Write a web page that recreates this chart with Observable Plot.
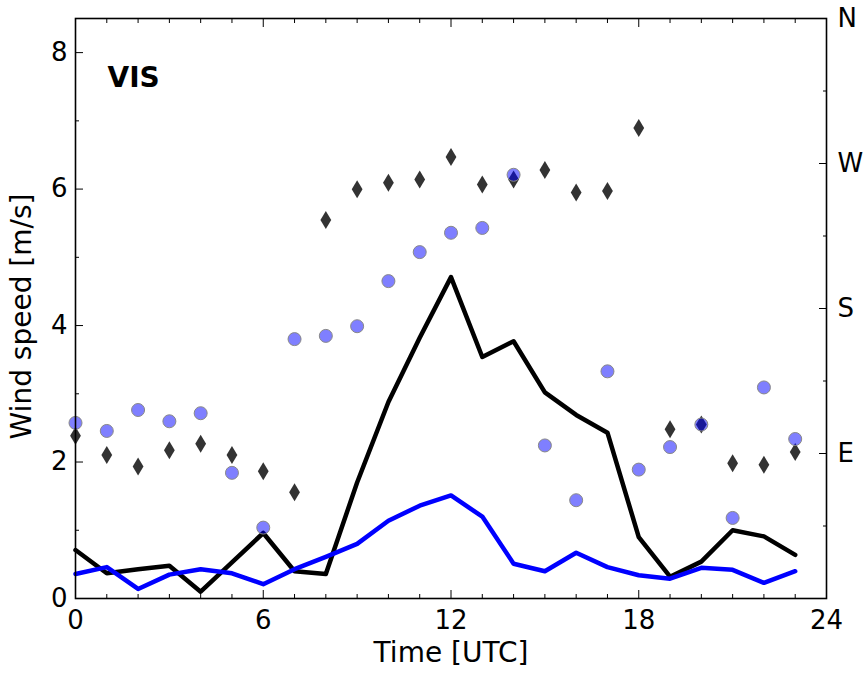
<!DOCTYPE html>
<html>
<head>
<meta charset="utf-8">
<script src="https://cdn.jsdelivr.net/npm/d3@7"></script>
<script src="https://cdn.jsdelivr.net/npm/@observablehq/plot@0.6"></script>
<style>
  html, body { margin: 0; padding: 0; background: #fff; }
  #chart svg { display: block; }
</style>
</head>
<body>
<div id="chart"></div>
<script>
// ---- data ----
const hours = [0,1,2,3,4,5,6,7,8,9,10,11,12,13,14,15,16,17,18,19,20,21,22,23];
const blackSpeed = [0.71,0.37,0.43,0.48,0.10,0.53,0.96,0.40,0.36,1.70,2.88,3.82,4.71,3.54,3.77,3.02,2.69,2.43,0.90,0.32,0.54,1.00,0.91,0.64];
const blueSpeed  = [0.36,0.46,0.14,0.35,0.43,0.37,0.21,0.43,0.61,0.80,1.14,1.36,1.51,1.20,0.51,0.40,0.67,0.46,0.34,0.29,0.45,0.42,0.23,0.40];
const blackDir = [101,89,82,92,96,89,79,66,235,254,258,260,274,257,260,266,252,253,292,105,108,84,83,91];
const blueDir  = [109,104,117,110,115,78,44,161,163,169,197,215,227,230,263,95,61,141,80,94,108,50,131,99];
const xTicksMajor = [0,6,12,18,24];
const xTicksMinor = [1,2,3,4,5,7,8,9,10,11,13,14,15,16,17,19,20,21,22,23];
const yTicksMajor = [0,2,4,6,8];
const yTicksMinor = [1,3,5,7];
const dirTicksMajor = [90,180,270,360];
const dirLabels = ["E","S","W","N"];
const dirTicksMinor = [45,135,225,315];
const panelLabel = "VIS";
const xLabel = "Time [UTC]";
const yLabel = "Wind speed [m/s]";

const YMAX = 8.5;
const dirToY = d => d * YMAX / 360;

const lineBlack = hours.map((h, i) => ({h, v: blackSpeed[i]}));
const lineBlue  = hours.map((h, i) => ({h, v: blueSpeed[i]}));
const ptsBlack  = hours.map((h, i) => ({h, v: dirToY(blackDir[i])}));
const ptsBlue   = hours.map((h, i) => ({h, v: dirToY(blueDir[i])}));

const thinDiamond = {
  draw(context, size) {
    const w = 5.4, hh = 9;
    context.moveTo(0, -hh);
    context.lineTo(w, 0);
    context.lineTo(0, hh);
    context.lineTo(-w, 0);
    context.closePath();
  }
};

const FS = 26;
const TFS = 28;
const blank = () => "";

const chart = Plot.plot({
  width: 865,
  height: 679,
  marginLeft: 75,
  marginRight: 39,
  marginTop: 18,
  marginBottom: 81,
  style: {fontFamily: "DejaVu Sans", fontSize: FS + "px", color: "#000", background: "#fff"},
  x: {domain: [0, 24]},
  y: {domain: [0, YMAX]},
  marks: [
    // lines
    Plot.line(lineBlack, {x: "h", y: "v", stroke: "#000", strokeWidth: 4.5, strokeLinejoin: "round"}),
    Plot.line(lineBlue, {x: "h", y: "v", stroke: "#0000ff", strokeWidth: 4.5, strokeLinejoin: "round"}),
    // direction points
    Plot.dot(ptsBlack, {x: "h", y: "v", symbol: thinDiamond, r: 5, fill: "#333333", stroke: "none"}),
    Plot.dot(ptsBlue, {x: "h", y: "v", r: 6.5, fill: "#0000ff", fillOpacity: 0.5, stroke: "#888888", strokeWidth: 1}),
    // frame
    Plot.frame({stroke: "#000", strokeWidth: 1.6}),
    // bottom axis: labels + inward ticks
    Plot.axisX({anchor: "bottom", ticks: xTicksMajor, tickSize: 0, tickPadding: 12, fontSize: FS, label: null}),
    Plot.axisX({anchor: "bottom", ticks: xTicksMajor, tickSize: -8, tickFormat: blank, label: null}),
    Plot.axisX({anchor: "bottom", ticks: xTicksMinor, tickSize: -4, tickFormat: blank, label: null}),
    Plot.axisX({anchor: "top", ticks: xTicksMajor, tickSize: -8, tickFormat: blank, label: null}),
    Plot.axisX({anchor: "top", ticks: xTicksMinor, tickSize: -4, tickFormat: blank, label: null}),
    // left axis
    Plot.axisY({anchor: "left", ticks: yTicksMajor, tickSize: 0, tickPadding: 8, fontSize: FS, label: null}),
    Plot.axisY({anchor: "left", ticks: yTicksMajor, tickSize: -8, tickFormat: blank, label: null}),
    Plot.axisY({anchor: "left", ticks: yTicksMinor, tickSize: -4, tickFormat: blank, label: null}),
    // right axis (direction)
    Plot.axisY({anchor: "right", ticks: dirTicksMajor.map(dirToY), tickSize: 0, tickPadding: 11, fontSize: FS,
      tickFormat: (d, i) => dirLabels[i], label: null}),
    Plot.axisY({anchor: "right", ticks: dirTicksMajor.map(dirToY), tickSize: -8, tickFormat: blank, label: null}),
    Plot.axisY({anchor: "right", ticks: dirTicksMinor.map(dirToY), tickSize: -4, tickFormat: blank, label: null}),
    // axis titles
    Plot.text([xLabel], {frameAnchor: "bottom", dy: 55, lineAnchor: "middle", textAnchor: "middle", fontSize: TFS, fill: "#000"}),
    Plot.text([yLabel], {frameAnchor: "left", dx: -53, dy: 8, rotate: -90, lineAnchor: "middle", textAnchor: "middle", fontSize: TFS, fill: "#000"}),
    // panel label
    Plot.text([panelLabel], {frameAnchor: "top-left", dx: 32, dy: 49, lineAnchor: "top", textAnchor: "start", fontSize: 28, fontWeight: "bold", fill: "#000"})
  ]
});

document.getElementById("chart").appendChild(chart);
</script>
</body>
</html>
